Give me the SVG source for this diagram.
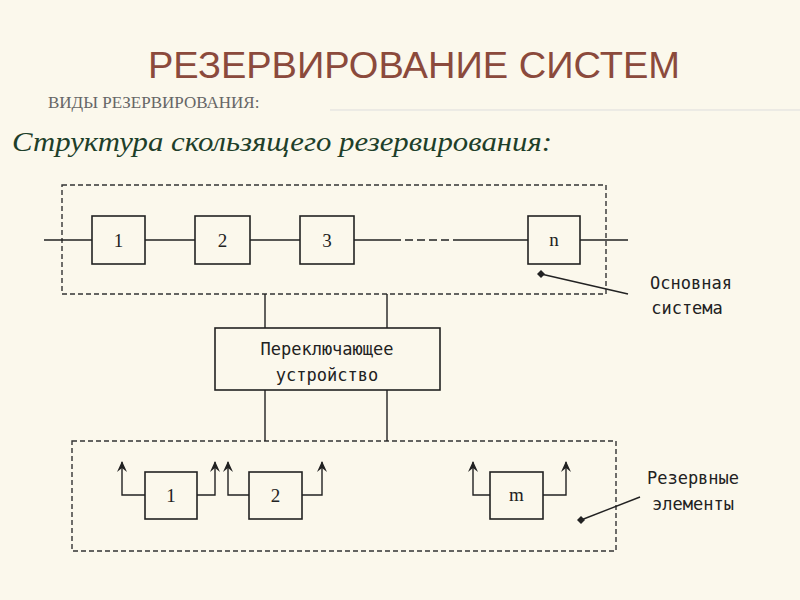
<svg xmlns="http://www.w3.org/2000/svg" width="800" height="600" viewBox="0 0 800 600">
<style>
.b{fill:none;stroke:#222;stroke-width:1.6}
.d{fill:none;stroke:#333;stroke-width:1.4;stroke-dasharray:5,3}
.l{fill:none;stroke:#222;stroke-width:1.4}
.ar{fill:none;stroke:#222;stroke-width:1.4;marker-end:url(#a)}
.t{font-family:"DejaVu Sans Mono","Liberation Mono",monospace;font-size:17px;fill:#222;text-anchor:middle}
.n{font-family:"Liberation Serif",serif;font-size:19px;fill:#222;text-anchor:middle}
</style>
<defs><marker id="a" markerWidth="10" markerHeight="12" refX="5" refY="1" orient="0" markerUnits="userSpaceOnUse"><path d="M0,11 L5,0 L10,11 L5,7 Z" fill="#222"/></marker>
<marker id="dot" markerWidth="8" markerHeight="8" refX="4" refY="4" markerUnits="userSpaceOnUse"><path d="M4,0 L8,4 L4,8 L0,4 Z" fill="#222"/></marker></defs>
<rect width="800" height="600" fill="#FBF8EC"/>
<text x="148" y="78" font-family="Liberation Sans,sans-serif" font-size="37" fill="#8B4A3C" textLength="532" lengthAdjust="spacingAndGlyphs">РЕЗЕРВИРОВАНИЕ СИСТЕМ</text>
<text x="48" y="108" font-family="Liberation Serif,serif" font-size="17" fill="#666">ВИДЫ РЕЗЕРВИРОВАНИЯ:</text>
<line x1="330" y1="110" x2="800" y2="110" stroke="#ddd" stroke-width="1"/>
<text x="12" y="151" font-family="Liberation Serif,serif" font-style="italic" font-size="27" fill="#1E3F2A" textLength="540" lengthAdjust="spacingAndGlyphs">Структура скользящего резервирования:</text>
<g id="connectors">
<rect class="d" x="62" y="185" width="544" height="109"/>
<rect class="d" x="72" y="441" width="544" height="110"/>
<path class="l" d="M44,240H92M145,240H195M250,240H300M354,240H393M457,240H528M580,240H628"/>
<path class="l" d="M393,240H457" stroke-dasharray="8,4"/>
<path class="l" d="M265,294V328M387,294V328M265,390V441M387,390V441"/>
<path class="ar" d="M145,495H122V462"/>
<path class="ar" d="M197,495H215V462"/>
<path class="ar" d="M249,495H228V462"/>
<path class="ar" d="M302,495H322V462"/>
<path class="ar" d="M490,495H473V462"/>
<path class="ar" d="M543,495H566V462"/>
<line class="l" x1="628" y1="294" x2="541" y2="274" marker-end="url(#dot)"/>
<line class="l" x1="640" y1="497" x2="581" y2="520" marker-end="url(#dot)"/>
</g>
<g id="n1"><rect class="b" x="92" y="216" width="53" height="48"/><text class="n" x="118.5" y="247">1</text></g>
<g id="n2"><rect class="b" x="195" y="216" width="55" height="48"/><text class="n" x="222.5" y="247">2</text></g>
<g id="n3"><rect class="b" x="300" y="216" width="54" height="48"/><text class="n" x="327" y="247">3</text></g>
<g id="nn"><rect class="b" x="528" y="216" width="52" height="48"/><text class="n" x="554" y="246">n</text></g>
<g id="switch"><rect class="b" x="215" y="328" width="225" height="62"/><text class="t" x="327" y="355">Переключающее</text><text class="t" x="327" y="381">устройство</text></g>
<g id="r1"><rect class="b" x="145" y="472" width="52" height="47"/><text class="n" x="171" y="502">1</text></g>
<g id="r2"><rect class="b" x="249" y="472" width="53" height="47"/><text class="n" x="275.5" y="502">2</text></g>
<g id="rm"><rect class="b" x="490" y="472" width="53" height="47"/><text class="n" x="516.5" y="501">m</text></g>
<g id="lab1"><text class="t" x="691" y="289">Основная</text><text class="t" x="687" y="314">система</text></g>
<g id="lab2"><text class="t" x="693" y="484">Резервные</text><text class="t" x="693" y="510">элементы</text></g>
</svg>
